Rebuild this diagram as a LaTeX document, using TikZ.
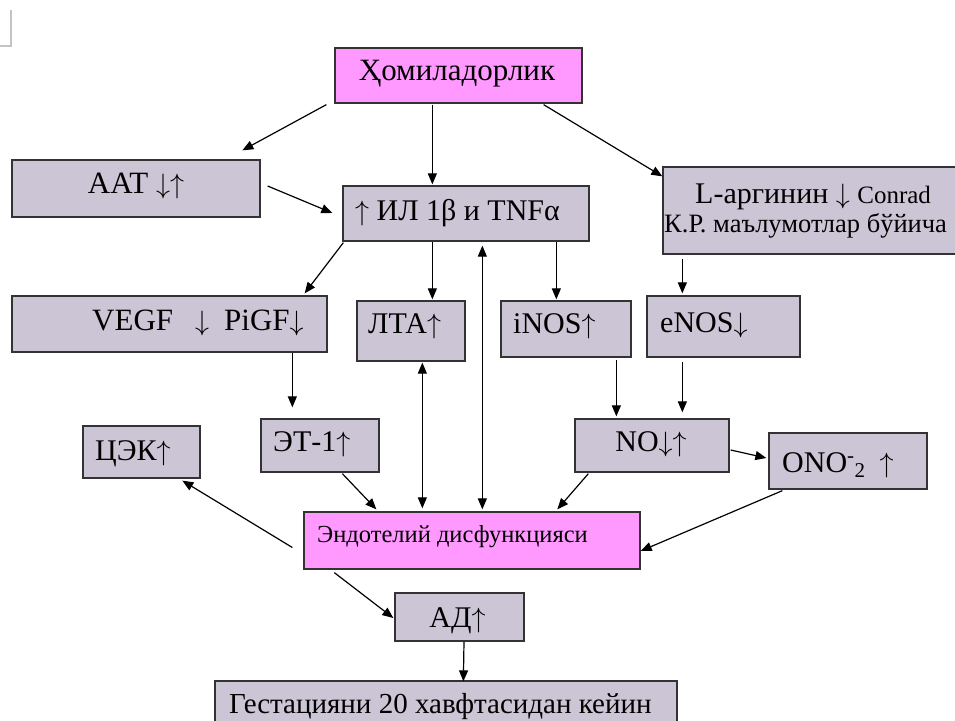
\documentclass[tikz,border=0pt]{standalone}
\usepackage{graphicx}
\usepackage{fontspec}
\setmainfont{Liberation Serif}
\usetikzlibrary{arrows.meta,calc}
\definecolor{boxgray}{HTML}{CBC5D5}
\definecolor{boxpink}{HTML}{FF99FF}
\definecolor{edgegray}{HTML}{333333}
\definecolor{markgray}{HTML}{C4C4C4}
\newcommand{\myup}{{\fontsize{10}{12}\selectfont\scalebox{2.8}{$\uparrow$}}}
\newcommand{\mydown}{{\fontsize{10}{12}\selectfont\scalebox{2.8}{$\downarrow$}}}
\tikzset{
  gbox/.style={draw=edgegray, line width=1.3pt, fill=boxgray, rectangle, inner sep=0pt},
  pbox/.style={draw=edgegray, line width=1.3pt, fill=boxpink, rectangle, inner sep=0pt},
  lbl/.style={inner sep=0pt, anchor=base, font=\fontsize{30}{36}\selectfont},
  lblw/.style={lbl, anchor=base west},
  arr/.style={line width=1.2pt, draw=black, -{Triangle[length=11pt,width=9pt]}},
  darr/.style={line width=1.2pt, draw=black, {Triangle[length=11pt,width=9pt]}-{Triangle[length=11pt,width=9pt]}}
}
\begin{document}
\begin{tikzpicture}[x=1pt,y=-1pt]
\clip (0,0) rectangle (955,720);
\fill[white] (0,0) rectangle (955,720);
% page corner mark
\draw[markgray, line width=1.5pt] (11,10) -- (11,46) -- (0,46);

% boxes
\node[pbox, minimum width=247pt, minimum height=55pt] (hom) at (458.5,75.5) {};
\node[gbox, minimum width=248pt, minimum height=57pt] (aat) at (136,188.5) {};
\node[gbox, minimum width=246pt, minimum height=55pt] (il) at (466,213.5) {};
\node[gbox, minimum width=297pt, minimum height=87pt] (larg) at (811.5,210.5) {};
\node[gbox, minimum width=315pt, minimum height=56pt] (vegf) at (169.5,324) {};
\node[gbox, minimum width=108pt, minimum height=60pt] (lta) at (411,331) {};
\node[gbox, minimum width=130pt, minimum height=56pt] (inos) at (566,329) {};
\node[gbox, minimum width=153pt, minimum height=61pt] (enos) at (723.5,326.5) {};
\node[gbox, minimum width=117pt, minimum height=52pt] (tsek) at (141.5,452) {};
\node[gbox, minimum width=118pt, minimum height=53pt] (et1) at (320,445.5) {};
\node[gbox, minimum width=154pt, minimum height=53pt] (no) at (652,445.5) {};
\node[gbox, minimum width=158pt, minimum height=56pt] (ono) at (848,461) {};
\node[pbox, minimum width=336pt, minimum height=57pt] (endo) at (472,540.5) {};
\node[gbox, minimum width=129pt, minimum height=48pt] (ad) at (459.5,617) {};
\node[gbox, minimum width=462pt, minimum height=50pt] (gest) at (446,706) {};

% labels
\node[lbl, font=\fontsize{31}{36}\selectfont] (thom) at (457,80) {Ҳомиладорлик};
\node[lbl, font=\fontsize{31}{36}\selectfont] (taat) at (136,193) {AAT \mydown\myup};
\node[lblw] (til) at (355,220) {\myup{} ИЛ 1β и TNFα};
\node[lblw] (tlarg1) at (695,203) {L-аргинин \mydown{} {\fontsize{25}{28}\selectfont Conrad}};
\node[lblw, font=\fontsize{26.5}{30}\selectfont] (tlarg2) at (664,232) {К.Р. маълумотлар бўйича};
\node[lblw, font=\fontsize{31}{36}\selectfont] (tvegf) at (92,330) {VEGF\hspace{22pt}\mydown\hspace{15pt}PiGF\mydown};
\node[lblw] (tlta) at (368,333) {ЛТА\myup};
\node[lblw] (tinos) at (513,333) {iNOS\myup};
\node[lblw] (tenos) at (660,332) {eNOS\mydown};
\node[lblw] (ttsek) at (95,460) {ЦЭК\myup};
\node[lblw] (tet1) at (273,451) {ЭТ-1\myup};
\node[lbl] (tno) at (651,451) {NO\mydown\myup};
\node[lblw] (tono) at (782,472) {ONO\textsuperscript{-}\textsubscript{2}\hspace{14pt}\myup};
\node[lblw, font=\fontsize{24.5}{30}\selectfont] (tendo) at (317,542) {Эндотелий дисфункцияси};
\node[lbl] (tad) at (457.5,627) {АД\myup};
\node[lblw, font=\fontsize{29}{34}\selectfont] (tgest) at (229,713) {Гестацияни 20 хавфтасидан кейин};

% connectors
\draw[arr] ($(hom.south west)+(-8,1)$) -- ($(aat.north west)+(231,-9)$);
\draw[arr] ($(aat.east)+(7,-2.5)$) -- ($(il.west)+(-10,-0.5)$);
\draw[arr] ($(hom.south west)+(98,1)$) -- ($(il.north west)+(90,-1)$);
\draw[arr] ($(hom.south east)+(-39,1)$) -- ($(larg.north west)+(0,10)$);
\draw[arr] ($(il.south west)+(1,1)$) -- ($(vegf.north east)+(-23,-2)$);
\draw[arr] ($(il.south west)+(90,0)$) -- ($(lta.north west)+(76,-1)$);
\draw[darr] ($(il.south west)+(140,4)$) -- ($(endo.north west)+(179,-2)$);
\draw[arr] ($(il.south west)+(214,0)$) -- ($(inos.north west)+(56,-1)$);
\draw[arr] ($(larg.south west)+(20,4)$) -- ($(enos.north west)+(36,-2)$);
\draw[arr] ($(vegf.south west)+(281,0)$) -- ($(et1.north west)+(32,-11)$);
\draw[darr] ($(lta.south west)+(66,1)$) -- ($(endo.north west)+(119,-3)$);
\draw[arr] ($(inos.south west)+(116,2)$) -- ($(no.north west)+(42,-2)$);
\draw[arr] ($(enos.south west)+(36,4)$) -- ($(no.north west)+(108,-6)$);
\draw[arr] ($(no.south west)+(14,1)$) -- ($(endo.north west)+(254,-2)$);
\draw[arr] ($(no.east)+(1,4.5)$) -- ($(ono.west)+(-2,-3)$);
\draw[arr] ($(ono.south west)+(14,1)$) -- ($(endo.east)+(0,10.5)$);
\draw[arr] ($(et1.south west)+(82,1)$) -- ($(endo.north west)+(73,-2)$);
\draw[arr] ($(endo.west)+(-11,7)$) -- ($(tsek.south west)+(100,2)$);
\draw[arr] ($(endo.south west)+(31,3)$) -- ($(ad.west)+(-1,1)$);
\draw[arr] ($(ad.south)+(4.5,0)$) -- ($(gest.north west)+(249,1)$);
\end{tikzpicture}
\end{document}
